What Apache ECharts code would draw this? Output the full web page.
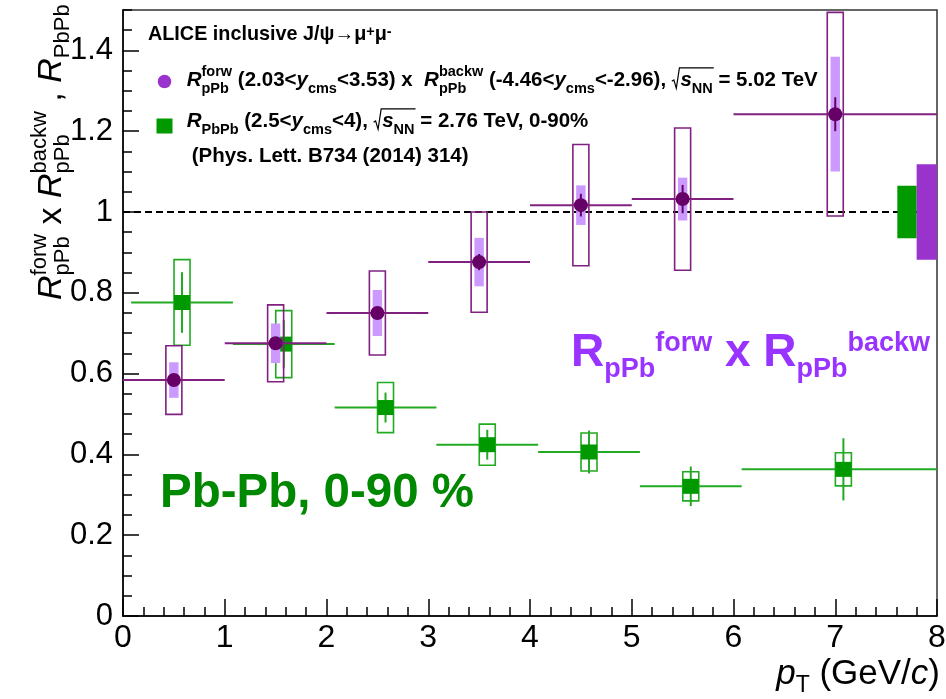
<!DOCTYPE html>
<html><head><meta charset="utf-8">
<script src="https://cdn.jsdelivr.net/npm/echarts@6/dist/echarts.min.js"></script>
<style>html,body{margin:0;padding:0;background:#fff}#chart{width:946px;height:699px}</style>
</head><body><div id="chart"></div>
<script>
// ---------------- data ----------------
const xTickValues = [0, 1, 2, 3, 4, 5, 6, 7, 8];
const yTickLabels = ['0', '0.2', '0.4', '0.6', '0.8', '1', '1.2', '1.4'];

// R_pPb^forw x R_pPb^backw (5.02 TeV)
const pPbX = [0.5, 1.5, 2.5, 3.5, 4.5, 5.5, 7.0];
const pPbXLow = [0, 1, 2, 3, 4, 5, 6];
const pPbXHigh = [1, 2, 3, 4, 5, 6, 8];
const pPbY = [0.584, 0.675, 0.750, 0.876, 1.017, 1.032, 1.242];
const pPbStat = [0.010, 0.012, 0.012, 0.020, 0.028, 0.035, 0.042];
const pPbSysUncorr = [0.085, 0.095, 0.104, 0.124, 0.150, 0.176, 0.252];
const pPbSysCorr = [0.044, 0.049, 0.057, 0.060, 0.049, 0.053, 0.142];

// R_PbPb (2.76 TeV, 0-90%)
const PbPbX = [0.58, 1.58, 2.58, 3.58, 4.58, 5.58, 7.08];
const PbPbXLow = [0.08, 1.08, 2.08, 3.08, 4.08, 5.08, 6.08];
const PbPbXHigh = [1.08, 2.08, 3.08, 4.08, 5.08, 6.08, 8];
const PbPbY = [0.776, 0.673, 0.516, 0.424, 0.406, 0.321, 0.363];
const PbPbStat = [0.075, 0.060, 0.037, 0.037, 0.053, 0.049, 0.077];
const PbPbSys = [0.106, 0.083, 0.062, 0.051, 0.047, 0.036, 0.041];

// global (correlated) uncertainties at unity: [PbPb, pPb]
const globalXLow = [7.61, 7.80];
const globalXHigh = [7.80, 8.0];
const globalUnc = [0.065, 0.118];

const unityLine = [[0, 1], [8, 1]];

// ---------------- styles ----------------
const FAM = '"Liberation Sans", Arial, Helvetica, sans-serif';
const C_PUR_LINE = '#802080', C_PUR_MARK = '#660066', C_PUR_LIGHT = '#cc99ff';
const C_GRN = '#009900', C_GRN_LINE = '#22aa22';
const C_GLOB = ['#009900', '#9933cc'];

// ---------------- text layout helpers ----------------
const mctx = document.createElement('canvas').getContext('2d');
function fstr(sz, bold, it) { return (it ? 'italic ' : '') + (bold ? 'bold ' : '') + sz + 'px ' + FAM; }
function tw(t, sz, bold, it) { mctx.font = fstr(sz, bold, it); return mctx.measureText(t).width; }
function txt(t, x, base, sz, bold, it, color) {
  return { type: 'text', x: x, y: base - 0.347 * sz, silent: true,
    style: { text: t, fontSize: sz, fontWeight: bold ? 'bold' : 'normal', fontStyle: it ? 'italic' : 'normal',
      fontFamily: FAM, fill: color, align: 'left', verticalAlign: 'middle' } };
}
function flow(items, x, base, cfg, out) {
  for (const item of items) {
    if (typeof item === 'string' || item.t !== undefined) {
      const t = typeof item === 'string' ? item : item.t;
      const ital = typeof item === 'string' ? false : !!item.it;
      out.push(txt(t, x, base, cfg.size, cfg.bold, ital, cfg.color));
      x += tw(t, cfg.size, cfg.bold, ital);
    } else if (item.sqrt) {
      const x0 = x;
      x += cfg.size * 0.42;
      const xs = x;
      x = flow(item.sqrt, x, base, cfg, out);
      const top = base - cfg.size * 0.95;
      out.push({ type: 'polyline', silent: true, shape: { points: [[x0, base - cfg.size * 0.3], [x0 + cfg.size * 0.1, base - cfg.size * 0.36], [x0 + cfg.size * 0.22, base + 1], [xs - 1, top], [x + 1, top]] },
        style: { stroke: cfg.color, lineWidth: 1.2, fill: null } });
    } else {
      let w = 0;
      if (item.sup) {
        out.push(txt(item.sup, x, base + cfg.supDy, cfg.subSize, cfg.bold, false, cfg.color));
        w = Math.max(w, tw(item.sup, cfg.subSize, cfg.bold, false));
      }
      if (item.sub) {
        out.push(txt(item.sub, x, base + cfg.subDy, cfg.subSize, cfg.bold, false, cfg.color));
        w = Math.max(w, tw(item.sub, cfg.subSize, cfg.bold, false));
      }
      x += w;
    }
  }
  return x;
}

const graphics = [];
// legend block
const legCfg = { size: 20.5, bold: true, subSize: 14.5, subDy: 6.5, supDy: -10, color: '#000' };
flow(['ALICE inclusive J/ψ→μ', { sup: '+' }, 'μ', { sup: '-' }], 148, 41.7,
  Object.assign({}, legCfg, { size: 19.8, supDy: -5 }), graphics);
graphics.push({ type: 'circle', silent: true, shape: { cx: 164.5, cy: 81.5, r: 6.8 }, style: { fill: '#9933cc' } });
flow([{ t: 'R', it: true }, { sup: 'forw', sub: 'pPb' }, ' (2.03<', { t: 'y', it: true }, { sub: 'cms' }, '<3.53) x  ',
  { t: 'R', it: true }, { sup: 'backw', sub: 'pPb' }, ' (-4.46<', { t: 'y', it: true }, { sub: 'cms' }, '<-2.96), ',
  { sqrt: [{ t: 's', it: true }, { sub: 'NN' }] }, ' = 5.02 TeV'], 186.7, 87.3, legCfg, graphics);
graphics.push({ type: 'rect', silent: true, shape: { x: 156.5, y: 118.5, width: 16, height: 15 }, style: { fill: C_GRN } });
flow([{ t: 'R', it: true }, { sub: 'PbPb' }, ' (2.5<', { t: 'y', it: true }, { sub: 'cms' }, '<4), ',
  { sqrt: [{ t: 's', it: true }, { sub: 'NN' }] }, ' = 2.76 TeV, 0-90%'], 186.7, 128.3, legCfg, graphics);
flow(['(Phys. Lett. B734 (2014) 314)'], 191.7, 163.3, legCfg, graphics);

// big annotations
flow([{ t: 'R' }, { sub: 'pPb' }, { sup: 'forw' }, ' x ', { t: 'R' }, { sub: 'pPb' }, { sup: 'backw' }], 571, 369,
  { size: 46, bold: true, subSize: 27, subDy: 10, supDy: -16, color: '#9933ff' }, graphics);
graphics.push(txt('Pb-Pb, 0-90 %', 160, 510, 47.5, true, false, '#008800'));

// x axis title (right aligned at frame edge)
const xtCfg = { size: 35, bold: false, subSize: 23, subDy: 8, supDy: -14, color: '#000' };
const xtItems = [{ t: 'p', it: true }, { sub: 'T' }, ' (GeV/', { t: 'c', it: true }, ')'];
const xtW = flow(xtItems, 0, 0, xtCfg, []);
flow(xtItems, 940 - xtW, 686, xtCfg, graphics);

// y axis title (rotated)
const ytCfg = { size: 34, bold: false, subSize: 22, subDy: 8, supDy: -15, color: '#000' };
const ytChildren = [];
flow([{ t: 'R', it: true }, { sup: 'forw', sub: 'pPb' }, ' x ', { t: 'R', it: true }, { sup: 'backw', sub: 'pPb' },
  ' , ', { t: 'R', it: true }, { sub: 'PbPb' }], 0, 0, ytCfg, ytChildren);
graphics.push({ type: 'group', x: 63, y: 300, rotation: Math.PI / 2, children: ytChildren });

// ---------------- chart ----------------
const chart = echarts.init(document.getElementById('chart'), null, { renderer: 'canvas' });

function renderPbPb(params, api) {
  const x = api.value(0), y = api.value(1), xl = api.value(2), xh = api.value(3), st = api.value(4), sy = api.value(5);
  const c = api.coord([x, y]);
  const pl = api.coord([xl, y]), ph = api.coord([xh, y]);
  const sT = api.coord([x, y + sy])[1], sB = api.coord([x, y - sy])[1];
  const eT = api.coord([x, y + st])[1], eB = api.coord([x, y - st])[1];
  return { type: 'group', children: [
    { type: 'line', shape: { x1: pl[0], y1: c[1], x2: ph[0], y2: c[1] }, style: { stroke: C_GRN_LINE, lineWidth: 2 } },
    { type: 'rect', shape: { x: c[0] - 8, y: sT, width: 16, height: sB - sT }, style: { fill: null, stroke: C_GRN_LINE, lineWidth: 1.6 } },
    { type: 'line', shape: { x1: c[0], y1: eT, x2: c[0], y2: eB }, style: { stroke: C_GRN_LINE, lineWidth: 2 } },
    { type: 'rect', shape: { x: c[0] - 8, y: c[1] - 7.5, width: 16, height: 15 }, style: { fill: C_GRN } }
  ] };
}
function renderPPb(params, api) {
  const x = api.value(0), y = api.value(1), xl = api.value(2), xh = api.value(3), st = api.value(4), su = api.value(5), sc = api.value(6);
  const c = api.coord([x, y]);
  const pl = api.coord([xl, y]), ph = api.coord([xh, y]);
  const uT = api.coord([x, y + su])[1], uB = api.coord([x, y - su])[1];
  const cT = api.coord([x, y + sc])[1], cB = api.coord([x, y - sc])[1];
  const eT = api.coord([x, y + st])[1], eB = api.coord([x, y - st])[1];
  return { type: 'group', children: [
    { type: 'rect', shape: { x: c[0] - 4.7, y: cT, width: 9.4, height: cB - cT }, style: { fill: C_PUR_LIGHT } },
    { type: 'rect', shape: { x: c[0] - 8, y: uT, width: 16, height: uB - uT }, style: { fill: null, stroke: C_PUR_LINE, lineWidth: 1.6 } },
    { type: 'line', shape: { x1: pl[0], y1: c[1], x2: ph[0], y2: c[1] }, style: { stroke: C_PUR_LINE, lineWidth: 2 } },
    { type: 'line', shape: { x1: c[0], y1: eT, x2: c[0], y2: eB }, style: { stroke: C_PUR_MARK, lineWidth: 2 } },
    { type: 'circle', shape: { cx: c[0], cy: c[1], r: 7 }, style: { fill: C_PUR_MARK } }
  ] };
}
function renderGlobal(params, api) {
  const i = params.dataIndex;
  const p0 = api.coord([api.value(0), 1 + api.value(2)]);
  const p1 = api.coord([api.value(1), 1 - api.value(2)]);
  return { type: 'rect', shape: { x: p0[0], y: p0[1], width: p1[0] - p0[0], height: p1[1] - p0[1] }, style: { fill: C_GLOB[i] } };
}

const axisLineStyle = { color: '#000', width: 1.5 };
const option = {
  animation: false,
  backgroundColor: '#fff',
  grid: { left: 123, right: 9, top: 10, bottom: 83, show: true, borderColor: '#333', borderWidth: 1.5, outerBoundsMode: 'none', containLabel: false },
  xAxis: {
    type: 'value', min: 0, max: 8, interval: 1,
    axisLine: { show: true, onZero: false, lineStyle: axisLineStyle },
    axisTick: { show: true, inside: true, length: 17, lineStyle: axisLineStyle },
    minorTick: { show: true, splitNumber: 5, length: 9, lineStyle: axisLineStyle },
    axisLabel: { fontSize: 32, color: '#000', fontFamily: FAM, margin: 6,
      formatter: v => (xTickValues.indexOf(Math.round(v)) >= 0 ? String(Math.round(v)) : '') },
    splitLine: { show: false }, minorSplitLine: { show: false }
  },
  yAxis: [{
    type: 'value', min: 0, max: 1.5, interval: 0.2,
    axisLine: { show: true, onZero: false, lineStyle: axisLineStyle },
    axisTick: { show: true, inside: true, length: 16, lineStyle: axisLineStyle },
    axisLabel: { fontSize: 31, color: '#000', fontFamily: FAM, margin: 10, showMaxLabel: false,
      formatter: v => { const k = Math.round(v / 0.2); return (Math.abs(v - k * 0.2) < 1e-6 && k < yTickLabels.length) ? yTickLabels[k] : ''; } },
    splitLine: { show: false }
  }, {
    type: 'value', min: 0, max: 1.5, interval: 0.05, position: 'left',
    axisLine: { show: false },
    axisTick: { show: true, inside: true, length: 9, lineStyle: axisLineStyle },
    axisLabel: { show: false }, splitLine: { show: false }
  }],
  series: [
    { type: 'line', data: unityLine, symbol: 'none', silent: true, z: 1,
      lineStyle: { color: '#000', width: 2, type: [7, 4] } },
    { type: 'custom', renderItem: renderPbPb, z: 2, silent: true, clip: true,
      encode: { x: [0, 2, 3], y: 1 },
      data: PbPbX.map((x, i) => [x, PbPbY[i], PbPbXLow[i], PbPbXHigh[i], PbPbStat[i], PbPbSys[i]]) },
    { type: 'custom', renderItem: renderPPb, z: 3, silent: true, clip: true,
      encode: { x: [0, 2, 3], y: 1 },
      data: pPbX.map((x, i) => [x, pPbY[i], pPbXLow[i], pPbXHigh[i], pPbStat[i], pPbSysUncorr[i], pPbSysCorr[i]]) },
    { type: 'custom', renderItem: renderGlobal, z: 4, silent: true,
      encode: { x: [0, 1], y: 2 },
      data: globalXLow.map((x, i) => [x, globalXHigh[i], globalUnc[i]]) }
  ],
  graphic: graphics
};
chart.setOption(option);
</script></body></html>
